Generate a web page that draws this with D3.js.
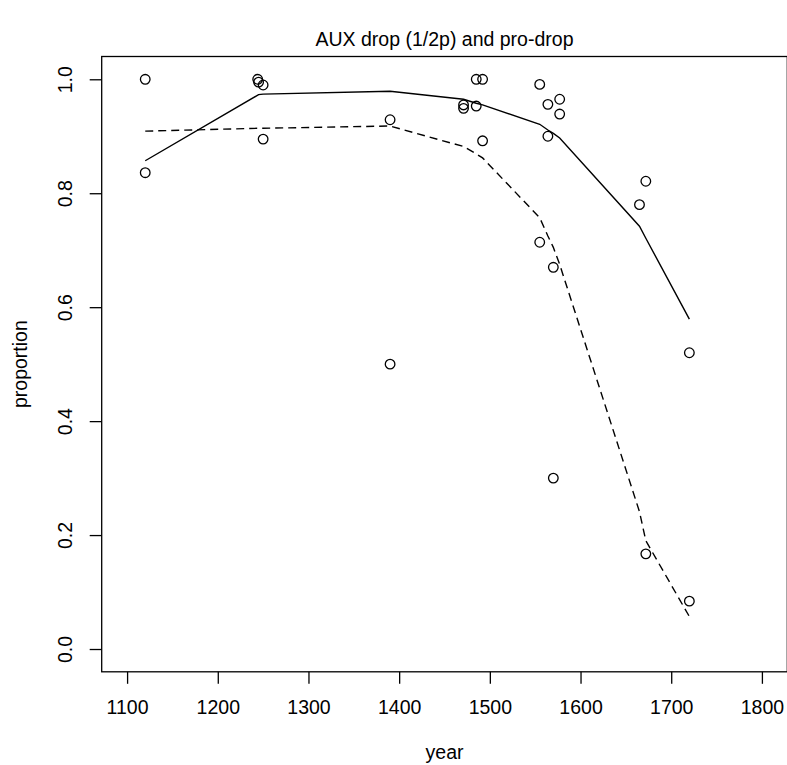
<!DOCTYPE html>
<meta charset="utf-8">
<style>
    body { margin: 0; background: #fff; }
    svg text { font-family: "Liberation Sans", Arial, Helvetica, sans-serif; fill: #000; }
</style>
<svg width="787" height="765"></svg>
<script src="https://d3js.org/d3.v7.min.js"></script>
<script>

    // observed proportions, one circle per text
    var auxYears = [1120, 1244, 1250, 1390, 1471, 1485, 1492, 1555, 1564, 1577, 1665, 1672, 1720];
    var auxDrop  = [1.000, 1.000, 0.990, 0.929, 0.955, 1.000, 1.000, 0.991, 0.956, 0.965, 0.780, 0.821, 0.520];

    var proYears = [1120, 1245, 1250, 1390, 1471, 1485, 1492, 1555, 1564, 1570, 1570, 1577, 1672, 1720];
    var proDrop  = [0.836, 0.995, 0.895, 0.500, 0.949, 0.953, 0.892, 0.714, 0.900, 0.670, 0.300, 0.939, 0.167, 0.084];

    // smoothed (lowess) curves
    var fitYears = [1120, 1245, 1250, 1390, 1471, 1485, 1492, 1555, 1564, 1570, 1577, 1665, 1672, 1720];
    var auxFit   = [0.857, 0.973, 0.974, 0.979, 0.965, 0.958, 0.955, 0.921, 0.911, 0.905, 0.897, 0.742, 0.721, 0.579];
    var proFit   = [0.909, 0.914, 0.914, 0.918, 0.882, 0.869, 0.862, 0.757, 0.725, 0.705, 0.675, 0.241, 0.190, 0.057];

    var xTicks = [1100, 1200, 1300, 1400, 1500, 1600, 1700, 1800];
    var yTicks = [0, 0.2, 0.4, 0.6, 0.8, 1.0];

    var svg = d3.select("svg");

    var plotL = 101.7, plotR = 787.3, plotT = 56.5, plotB = 671.8;

    // xlim/ylim padded by 4% like R does
    var x = d3.scaleLinear().domain([1072, 1828]).range([plotL, plotR]);
    var y = d3.scaleLinear().domain([-0.04, 1.04]).range([plotB, plotT]);

    var fontSize = 19.5;

    svg.append("text")
        .attr("x", (plotL + plotR) / 2)
        .attr("y", 46)
        .attr("text-anchor", "middle")
        .attr("font-size", fontSize)
        .text("AUX drop (1/2p) and pro-drop");

    svg.append("rect")
        .attr("x", plotL)
        .attr("y", plotT)
        .attr("width", plotR - plotL)
        .attr("height", plotB - plotT)
        .attr("fill", "none")
        .attr("stroke", "#000")
        .attr("stroke-width", 1.3);

    var xAxis = svg.append("g")
        .attr("transform", "translate(0," + plotB + ")")
        .call(d3.axisBottom(x).tickValues(xTicks).tickSize(12).tickPadding(16)
            .tickFormat(d3.format("d")));
    xAxis.select(".domain").remove();
    xAxis.selectAll("line").attr("stroke-width", 1.3);
    xAxis.selectAll("text")
        .attr("font-size", fontSize)
        .attr("font-family", "Liberation Sans, Arial, sans-serif");

    var yAxis = svg.append("g")
        .attr("transform", "translate(" + plotL + ",0)")
        .call(d3.axisLeft(y).tickValues(yTicks).tickSize(12)
            .tickFormat(d3.format(".1f")));
    yAxis.select(".domain").remove();
    yAxis.selectAll("line").attr("stroke-width", 1.3);
    yAxis.selectAll("text")
        .attr("font-size", fontSize)
        .attr("font-family", "Liberation Sans, Arial, sans-serif")
        .attr("text-anchor", "middle")
        .attr("dy", 0)
        .attr("x", 0)
        .attr("transform", "translate(-30,0) rotate(-90)");

    svg.append("text")
        .attr("x", (plotL + plotR) / 2)
        .attr("y", 759)
        .attr("text-anchor", "middle")
        .attr("font-size", fontSize)
        .text("year");

    svg.append("text")
        .attr("transform", "translate(27," + (plotT + plotB) / 2 + ") rotate(-90)")
        .attr("text-anchor", "middle")
        .attr("font-size", fontSize)
        .text("proportion");

    var line = d3.line()
        .x(function (d) { return x(d[0]); })
        .y(function (d) { return y(d[1]); });

    svg.append("path")
        .datum(d3.zip(fitYears, auxFit))
        .attr("d", line)
        .attr("fill", "none")
        .attr("stroke", "#000")
        .attr("stroke-width", 1.4);

    svg.append("path")
        .datum(d3.zip(fitYears, proFit))
        .attr("d", line)
        .attr("fill", "none")
        .attr("stroke", "#000")
        .attr("stroke-width", 1.4)
        .attr("stroke-dasharray", "8,5");

    var pts = d3.zip(auxYears, auxDrop).concat(d3.zip(proYears, proDrop));

    svg.append("g")
        .selectAll("circle")
        .data(pts)
        .enter().append("circle")
        .attr("cx", function (d) { return x(d[0]); })
        .attr("cy", function (d) { return y(d[1]); })
        .attr("r", 4.8)
        .attr("fill", "none")
        .attr("stroke", "#000")
        .attr("stroke-width", 1.3);

</script>
